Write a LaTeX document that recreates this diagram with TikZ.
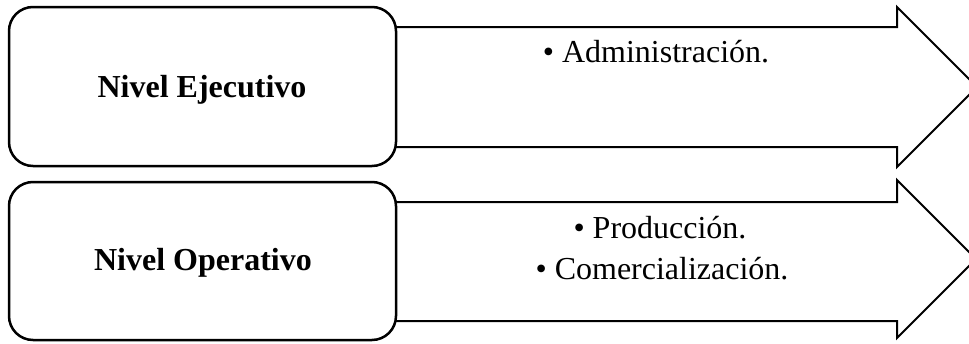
\documentclass[tikz,border=0pt]{standalone}
\usepackage{fontspec}
\setmainfont{Liberation Serif}
\begin{document}
\begin{tikzpicture}[x=1pt,y=-1pt,
  levelbox/.style={draw=black,line width=2.5pt,rounded corners=24pt,fill=white},
  arrowshape/.style={draw=black,line width=2pt,fill=white,line join=miter},
  leveltext/.style={font=\fontsize{32}{38}\selectfont\bfseries,anchor=base,inner sep=0pt},
  itemtext/.style={font=\fontsize{32}{38}\selectfont,anchor=base,inner sep=0pt}]
\useasboundingbox (0,0) rectangle (969,343);
% top arrow
\draw[arrowshape] (380,27) -- (897,27) -- (897,7) -- (977,87) -- (897,167) -- (897,147) -- (380,147) -- cycle;
\draw[levelbox] (9,7) rectangle (396,166);
\node[leveltext] (ejec) at (202,97) {Nivel Ejecutivo};
\node[itemtext] (admin) at (656,62) {•~Administración.};
% bottom arrow
\draw[arrowshape] (380,202) -- (897,202) -- (897,180) -- (976,259) -- (897,338) -- (897,321) -- (380,321) -- cycle;
\draw[levelbox] (9,182) rectangle (396,340);
\node[leveltext] (oper) at (203,270) {Nivel Operativo};
\node[itemtext] (prod) at (660,238) {•~Producción.};
\node[itemtext] (comer) at (662,279) {•~Comercialización.};
\end{tikzpicture}
\end{document}
